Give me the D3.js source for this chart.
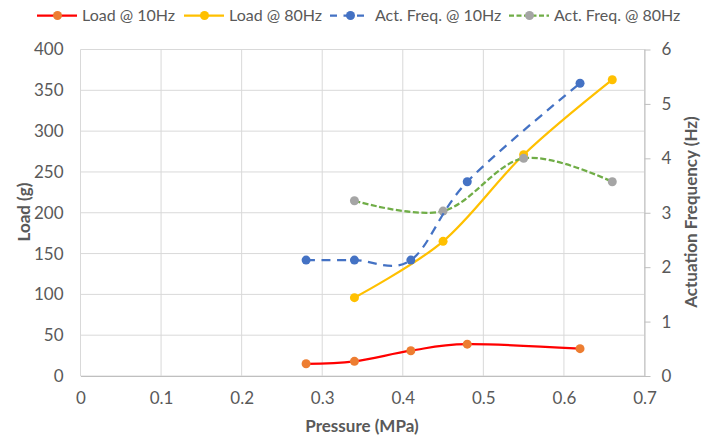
<!DOCTYPE html>
<html><head><meta charset="utf-8">
<script src="https://cdn.jsdelivr.net/npm/d3@7"></script>
<style>body{margin:0;background:#fff}svg{display:block}text{font-family:Lato,"Open Sans",sans-serif}</style>
</head><body><svg id="c" width="710" height="439"></svg>
<script>
const load10X = [0.28, 0.34, 0.41, 0.48, 0.62];
const load10Y = [15, 18, 31, 39, 33.5];
const load80X = [0.34, 0.45, 0.55, 0.66];
const load80Y = [96, 165, 271, 363];
const freq10X = [0.28, 0.34, 0.41, 0.48, 0.62];
const freq10Y = [2.13, 2.13, 2.13, 3.57, 5.38];
const freq80X = [0.34, 0.45, 0.55, 0.66];
const freq80Y = [3.22, 3.03, 4.0, 3.57];
const xTicks = [0, 0.1, 0.2, 0.3, 0.4, 0.5, 0.6, 0.7];
const loadTicks = [0, 50, 100, 150, 200, 250, 300, 350, 400];
const freqTicks = [0, 1, 2, 3, 4, 5, 6];
const seriesNames = ["Load @ 10Hz", "Load @ 80Hz", "Act. Freq. @ 10Hz", "Act. Freq. @ 80Hz"];

const svg = d3.select("#c");
const L = 80.5, R = 644.5, T = 49.5, B = 376;
const x = d3.scaleLinear().domain([0, 0.7]).range([L, R]);
const yL = d3.scaleLinear().domain([0, 400]).range([B, T]);
const yR = d3.scaleLinear().domain([0, 6]).range([B, T]);
const grid = "#d9d9d9", axisC = "#bfbfbf", txt = "#595959";
const FS = 17;

// gridlines
svg.append("g").selectAll("line").data(loadTicks).join("line")
  .attr("x1", L).attr("x2", R).attr("y1", d => yL(d)).attr("y2", d => yL(d))
  .attr("stroke", grid).attr("stroke-width", 1);
svg.append("g").selectAll("line").data(xTicks).join("line")
  .attr("x1", d => x(d)).attr("x2", d => x(d)).attr("y1", T).attr("y2", B)
  .attr("stroke", grid).attr("stroke-width", 1);

// bottom axis
const xa = svg.append("g").attr("transform", `translate(0,${B})`)
  .call(d3.axisBottom(x).tickValues(xTicks).tickFormat(d3.format("")).tickSize(0).tickPadding(16));
xa.select(".domain").attr("stroke", axisC);
xa.selectAll("text").attr("fill", txt).attr("font-size", FS);

// left axis
const ya = svg.append("g").attr("transform", `translate(${L},0)`)
  .call(d3.axisLeft(yL).tickValues(loadTicks).tickSize(0).tickPadding(17));
ya.select(".domain").remove();
ya.selectAll("text").attr("fill", txt).attr("font-size", FS);

// right axis
const ra = svg.append("g").attr("transform", `translate(${R},0)`)
  .call(d3.axisRight(yR).tickValues(freqTicks).tickFormat(d3.format("d")).tickSize(6).tickPadding(11));
ra.select(".domain").attr("stroke", axisC).attr("d", `M0.5,${T}V${B}`);
ra.selectAll("line").attr("stroke", axisC);
ra.selectAll("text").attr("fill", txt).attr("font-size", FS);

// axis titles
svg.append("text").attr("x", 362).attr("y", 432).attr("text-anchor", "middle")
  .attr("font-size", FS).attr("font-weight", "bold").attr("fill", txt).text("Pressure (MPa)");
svg.append("text").attr("transform", "translate(30,212) rotate(-90)").attr("text-anchor", "middle")
  .attr("font-size", FS).attr("font-weight", "bold").attr("fill", txt).text("Load (g)");
svg.append("text").attr("transform", "translate(697,212) rotate(-90)").attr("text-anchor", "middle")
  .attr("font-size", FS).attr("font-weight", "bold").attr("fill", txt).text("Actuation Frequency (Hz)");

const series = [
  {xs: load10X, ys: load10Y, y: yL, line: "#ff0000", mark: "#ed7d31", dash: null},
  {xs: load80X, ys: load80Y, y: yL, line: "#ffc000", mark: "#ffc000", dash: null},
  {xs: freq10X, ys: freq10Y, y: yR, line: "#4472c4", mark: "#4472c4", dash: "9,6.5"},
  {xs: freq80X, ys: freq80Y, y: yR, line: "#70ad47", mark: "#a5a5a5", dash: "6,2.5"}
];
const draw = [1, 0, 3, 2];
draw.forEach(i => {
  const s = series[i];
  const pts = s.xs.map((v, j) => [x(v), s.y(s.ys[j])]);
  const g = svg.append("g");
  g.append("path").attr("d", d3.line().curve(d3.curveCardinal.tension(0))(pts))
    .attr("fill", "none").attr("stroke", s.line).attr("stroke-width", 2.25)
    .attr("stroke-dasharray", s.dash);
  g.selectAll("circle").data(pts).join("circle")
    .attr("cx", d => d[0]).attr("cy", d => d[1]).attr("r", 4.5).attr("fill", s.mark);
});

// legend
const legX = [37, 184, 330, 509];
const lg = svg.append("g");
series.forEach((s, i) => {
  const g = lg.append("g").attr("transform", `translate(${legX[i]},15.5)`);
  g.append("line").attr("x1", 0).attr("x2", 40).attr("y1", 0).attr("y2", 0)
    .attr("stroke", s.line).attr("stroke-width", 2.25)
    .attr("stroke-dasharray", i === 2 ? "7,6.5" : (i === 3 ? "5,2.5" : null));
  g.append("circle").attr("cx", 20.5).attr("cy", 0).attr("r", 4.5).attr("fill", s.mark);
  g.append("text").attr("x", 45).attr("y", 5.5).attr("font-size", 16).attr("fill", txt).text(seriesNames[i]);
});
</script></body></html>
